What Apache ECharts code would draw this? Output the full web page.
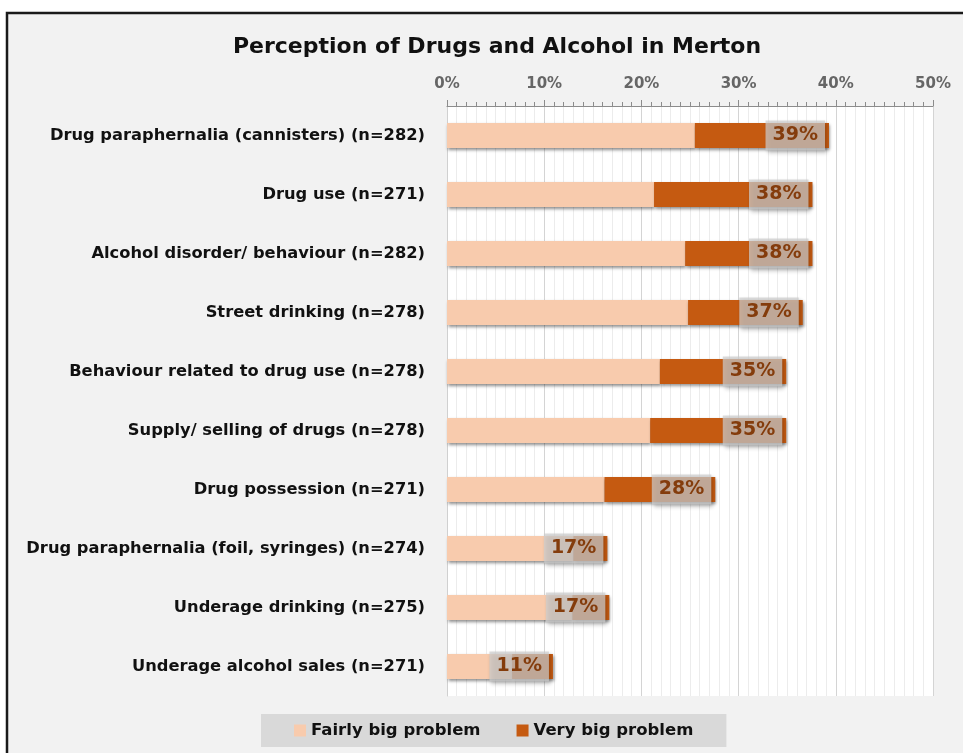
<!DOCTYPE html>
<html>
<head>
<meta charset="utf-8">
<script src="https://cdn.jsdelivr.net/npm/echarts@6/dist/echarts.min.js"></script>
<style>
html,body{margin:0;padding:0;background:#fff;}
#c{width:963px;height:753px;}
</style>
</head>
<body>
<div id="c"></div>
<script>
const categories = [
  'Drug paraphernalia (cannisters) (n=282)',
  'Drug use (n=271)',
  'Alcohol disorder/ behaviour (n=282)',
  'Street drinking (n=278)',
  'Behaviour related to drug use (n=278)',
  'Supply/ selling of drugs (n=278)',
  'Drug possession (n=271)',
  'Drug paraphernalia (foil, syringes) (n=274)',
  'Underage drinking (n=275)',
  'Underage alcohol sales (n=271)'
];
const fairlyBig = [25.5, 21.3, 24.5, 24.8, 21.9, 20.9, 16.2, 13.0, 12.9, 6.7];
const veryBig   = [13.8, 16.3, 13.1, 11.8, 13.0, 14.0, 11.4, 3.5, 3.8, 4.2];
const xTicks = [0, 10, 20, 30, 40, 50];

const chart = echarts.init(document.getElementById('c'), null, {renderer: 'canvas'});
const F = 'DejaVu Sans';
const option = {
  backgroundColor: '#ffffff',
  animation: false,
  graphic: [{
    type: 'rect', z: -10, silent: true,
    shape: {x: 7, y: 13, width: 1000, height: 800},
    style: {fill: '#F2F2F2', stroke: '#1a1a1a', lineWidth: 2.5}
  }],
  title: {
    text: 'Perception of Drugs and Alcohol in Merton',
    left: 492, top: 31, textAlign: 'center',
    textStyle: {fontFamily: F, fontWeight: 'bold', fontSize: 22, color: '#111'}
  },
  legend: {
    left: 261, top: 714,
    padding: [8, 33, 8, 33],
    backgroundColor: '#D9D9D9',
    itemWidth: 12, itemHeight: 12, itemGap: 36,
    icon: 'rect',
    textStyle: {fontFamily: F, fontWeight: 'bold', fontSize: 16.5, color: '#111'},
    data: ['Fairly big problem', 'Very big problem']
  },
  grid: {
    left: 447, right: 30, top: 106, bottom: 57,
    show: true, backgroundColor: '#ffffff', borderWidth: 0
  },
  xAxis: {
    type: 'value', position: 'top',
    min: xTicks[0], max: xTicks[xTicks.length - 1], interval: 10,
    axisLabel: {
      formatter: v => v + '%',
      fontFamily: F, fontWeight: 'bold', fontSize: 15, color: '#666', margin: 14
    },
    axisLine: {show: true, lineStyle: {color: '#8c8c8c', width: 1}},
    axisTick: {show: true, length: 6, lineStyle: {color: '#8c8c8c'}},
    minorTick: {show: true, splitNumber: 10, length: 4, lineStyle: {color: '#8c8c8c'}},
    splitLine: {show: true, lineStyle: {color: '#d4d4d4', width: 1}},
    minorSplitLine: {show: true, lineStyle: {color: '#ececec', width: 1}}
  },
  yAxis: {
    type: 'category', inverse: true, data: categories,
    axisLine: {show: true, lineStyle: {color: '#d0d0d0'}},
    axisTick: {show: false},
    axisLabel: {fontFamily: F, fontWeight: 'bold', fontSize: 16.3, color: '#111', margin: 22}
  },
  series: [
    {
      name: 'Fairly big problem', type: 'bar', stack: 't', barWidth: 25,
      data: fairlyBig,
      itemStyle: {color: '#F8CBAD', shadowColor: 'rgba(0,0,0,0.45)', shadowBlur: 3, shadowOffsetY: 2, shadowOffsetX: 1}
    },
    {
      name: 'Very big problem', type: 'bar', stack: 't', barWidth: 25,
      data: veryBig,
      itemStyle: {color: '#C55A11', shadowColor: 'rgba(0,0,0,0.45)', shadowBlur: 3, shadowOffsetY: 2, shadowOffsetX: 1},
      label: {
        show: true, position: 'insideRight', distance: 4,
        formatter: p => Math.round(fairlyBig[p.dataIndex] + veryBig[p.dataIndex]) + '%',
        fontFamily: F, fontWeight: 'bold', fontSize: 19, color: '#843C0C',
        backgroundColor: 'rgba(205,205,205,0.72)',
        padding: [6, 7, 5, 7],
        shadowColor: 'rgba(0,0,0,0.3)', shadowBlur: 4, shadowOffsetX: 2, shadowOffsetY: 2
      }
    }
  ]
};
chart.setOption(option);
</script>
</body>
</html>
